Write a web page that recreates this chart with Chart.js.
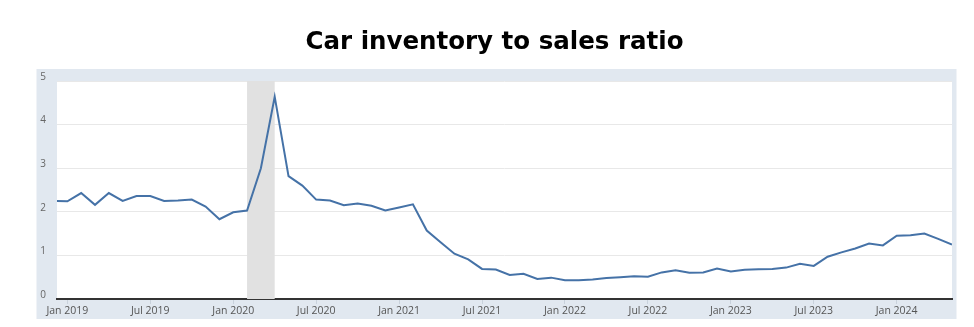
<!DOCTYPE html>
<html>
<head>
<meta charset="utf-8">
<script src="https://cdn.jsdelivr.net/npm/chart.js@4.4.1/dist/chart.umd.min.js"></script>
<style>
  html, body { margin: 0; padding: 0; background: #ffffff; }
  #wrap { width: 974px; height: 327px; }
</style>
</head>
<body>
<div id="wrap"><canvas id="c" width="974" height="327"></canvas></div>
<script>
// ---- data ----
const titleText = 'Car inventory to sales ratio';

// monthly categories, Dec 2018 .. May 2024
const monthNames = ['Jan','Feb','Mar','Apr','May','Jun','Jul','Aug','Sep','Oct','Nov','Dec'];
const months = ['Dec 2018'];
for (let y = 2019; y <= 2024; y++) {
  for (let m = 0; m < 12; m++) {
    if (y === 2024 && m > 4) break;
    months.push(monthNames[m] + ' ' + y);
  }
}

const ratio = [
  2.25,                                                        // 2018 Dec
  2.24, 2.43, 2.16, 2.43, 2.25, 2.36, 2.36, 2.25, 2.26, 2.28, 2.12, 1.83, // 2019
  1.99, 2.03, 3.00, 4.64, 2.82, 2.60, 2.28, 2.26, 2.15, 2.19, 2.14, 2.03, // 2020
  2.10, 2.17, 1.57, 1.30, 1.04, 0.91, 0.69, 0.675, 0.55, 0.58, 0.46, 0.49, // 2021
  0.43, 0.43, 0.45, 0.48, 0.50, 0.52, 0.51, 0.61, 0.66, 0.60, 0.61, 0.70, // 2022
  0.63, 0.67, 0.68, 0.69, 0.72, 0.81, 0.76, 0.97, 1.07, 1.16, 1.27, 1.23, // 2023
  1.45, 1.46, 1.50, 1.38, 1.25                                  // 2024
];

const xTickLabels = ['Jan 2019','Jul 2019','Jan 2020','Jul 2020','Jan 2021','Jul 2021',
                     'Jan 2022','Jul 2022','Jan 2023','Jul 2023','Jan 2024'];
const yTickValues = [0, 1, 2, 3, 4, 5];
const recession = ['Feb 2020', 'Apr 2020'];

// ---- build ----
const points = ratio.map((v, i) => ({ x: i, y: v }));
const tickIdx = xTickLabels.map(l => months.indexOf(l));

const panelPlugin = {
  id: 'panel',
  beforeDraw(chart) {
    const { ctx, chartArea } = chart;
    ctx.save();
    ctx.fillStyle = '#e1e8f0';
    ctx.fillRect(36.5, 69, 920, 250);
    ctx.fillStyle = '#ffffff';
    ctx.fillRect(chartArea.left, chartArea.top, chartArea.right - chartArea.left, chartArea.bottom - chartArea.top);
    ctx.restore();
  }
};

const recessionPlugin = {
  id: 'recession',
  beforeDatasetsDraw(chart) {
    const { ctx, chartArea, scales } = chart;
    const x0 = scales.x.getPixelForValue(months.indexOf(recession[0]));
    const x1 = scales.x.getPixelForValue(months.indexOf(recession[1]));
    ctx.save();
    ctx.fillStyle = '#e1e1e1';
    ctx.fillRect(x0, chartArea.top, x1 - x0, chartArea.bottom - chartArea.top);
    ctx.restore();
  }
};

new Chart(document.getElementById('c'), {
  type: 'line',
  data: {
    datasets: [{
      label: 'Car inventory to sales ratio',
      data: points,
      borderColor: '#4572a7',
      borderWidth: 2,
      pointRadius: 0,
      tension: 0,
      fill: false
    }]
  },
  options: {
    responsive: false,
    animation: false,
    devicePixelRatio: 1,
    layout: { padding: { left: 37, right: 22, top: 0, bottom: 0 } },
    plugins: {
      legend: { display: false },
      tooltip: { enabled: false },
      title: {
        display: true,
        text: titleText,
        color: '#000000',
        font: { family: 'DejaVu Sans', size: 24.5, weight: 'bold', lineHeight: 1.2 },
        padding: { top: 28, bottom: 23.6 }
      }
    },
    scales: {
      x: {
        type: 'linear',
        min: 0.25,
        max: months.length - 1,
        afterFit(scale) { scale.height = 28; },
        afterBuildTicks(scale) { scale.ticks = tickIdx.map(v => ({ value: v })); },
        ticks: {
          autoSkip: false,
          maxRotation: 0,
          padding: 1,
          color: '#555555',
          font: { family: 'Open Sans', size: 10.5 },
          callback: (v) => months[v]
        },
        grid: { drawOnChartArea: false, drawTicks: true, tickLength: 5, color: '#c9d2dc' },
        border: { display: true, color: '#333333', width: 2 }
      },
      y: {
        min: 0,
        max: 5,
        afterFit(scale) { scale.width = 20; },
        afterBuildTicks(scale) { scale.ticks = yTickValues.map(v => ({ value: v })); },
        ticks: {
          padding: 11,
          labelOffset: -4,
          color: '#666666',
          font: { family: 'Open Sans', size: 10 }
        },
        grid: { drawTicks: false, color: '#e8e8e8', lineWidth: 1 },
        border: { display: false }
      }
    }
  },
  plugins: [panelPlugin, recessionPlugin]
});
</script>
</body>
</html>
